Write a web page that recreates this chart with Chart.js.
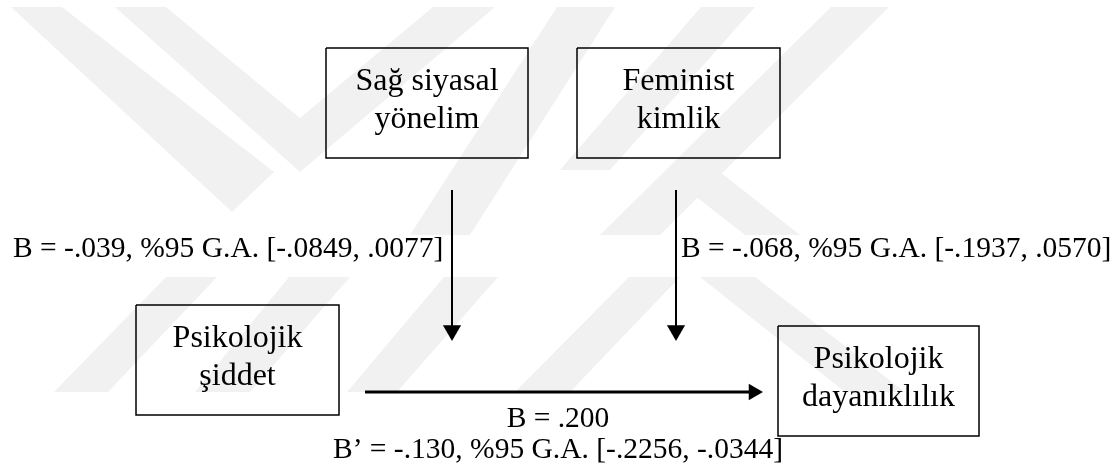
<!DOCTYPE html>
<html>
<head>
<meta charset="utf-8">
<script src="https://cdn.jsdelivr.net/npm/chart.js@4"></script>
<style>
  html, body { margin: 0; padding: 0; background: #fff; }
  #wrap { width: 1117px; height: 470px; }
</style>
</head>
<body>
<div id="wrap"><canvas id="pathChart"></canvas></div>
<script>
// variables of the moderation model
const nodeLines = [
  ["Sağ siyasal", "yönelim"],
  ["Feminist", "kimlik"],
  ["Psikolojik", "şiddet"],
  ["Psikolojik", "dayanıklılık"]
];
// path estimates written next to the arrows
const pathLabels = [
  "B = -.039, %95 G.A. [-.0849, .0077]",
  "B = -.068, %95 G.A. [-.1937, .0570]",
  "B = .200",
  "B’ = -.130, %95 G.A. [-.2256, -.0344]"
];

// layout, in picture units (x 0..1117, y 0..470 from the top)
const boxX = [326, 577, 136, 778];
const boxY = [48, 48, 305, 326];
const boxW = [202, 203, 203, 201];
const boxH = [110, 110, 110, 110];
const nodeTextY = [[90, 128], [90, 128], [347, 385], [368, 406]];
const arrowFrom = [[452, 190], [676, 190], [365, 392]];
const arrowTo = [[452, 341], [676, 341], [763, 392]];
const arrowWidth = [2, 2, 3];
const labelPos = [[13, 257, "left"], [681, 257, "left"], [558, 427, "center"], [558, 458, "center"]];

// faint watermark behind the diagram
const markBands = [
  { clip: [7, 235], poly: [[11,7],[62,7],[274,172],[232,212]] },
  { clip: [7, 235], poly: [[115,7],[166,7],[300,118],[433,7],[495,7],[300,172]] },
  { clip: [7, 235], poly: [[557,7],[615,7],[470,235],[410,235]] },
  { clip: [7, 235], poly: [[701,7],[755,7],[610,170],[560,170]] },
  { clip: [7, 235], poly: [[831,7],[889,7],[660,235],[600,235]] },
  { clip: [7, 235], poly: [[690,192],[715,168],[800,235],[745,235]] },
  { clip: [277, 392], poly: [[166,277],[217,277],[108,392],[54,392]] },
  { clip: [277, 392], poly: [[289,277],[350,277],[250,392],[195,392]] },
  { clip: [277, 392], poly: [[444,277],[498,277],[397,392],[347,392]] },
  { clip: [277, 392], poly: [[629,277],[680,277],[570,392],[515,392]] },
  { clip: [277, 392], poly: [[700,277],[755,277],[905,392],[845,392]] }
];

const serif = '"Liberation Serif", "Times New Roman", serif';

const datasets = [];
boxX.forEach((x, i) => {
  const y = boxY[i], w = boxW[i], h = boxH[i];
  datasets.push({
    data: [{x: x, y: y}, {x: x + w, y: y}, {x: x + w, y: y + h}, {x: x, y: y + h}, {x: x, y: y}],
    showLine: true,
    borderColor: "#000",
    borderWidth: 1.5,
    pointRadius: 0,
    fill: false
  });
});
arrowFrom.forEach((a, i) => {
  const b = arrowTo[i];
  const horiz = a[1] === b[1];
  const r = horiz ? 9.5 : 10.5;
  // the triangle is centred on the last point, so pull it back by r
  const end = horiz ? {x: b[0] - r, y: b[1]} : {x: b[0], y: b[1] - r};
  datasets.push({
    data: [{x: a[0], y: a[1]}, end],
    showLine: true,
    borderColor: "#000",
    borderWidth: arrowWidth[i],
    pointStyle: "triangle",
    pointRadius: [0, r],
    pointRotation: horiz ? 90 : 180,
    pointBackgroundColor: "#000",
    pointBorderWidth: 0,
    fill: false
  });
});

const watermark = {
  id: "watermark",
  beforeDatasetsDraw(chart) {
    const ctx = chart.ctx, xs = chart.scales.x, ys = chart.scales.y;
    ctx.save();
    ctx.fillStyle = "#f1f1f1";
    markBands.forEach((b) => {
      ctx.save();
      ctx.beginPath();
      ctx.rect(0, ys.getPixelForValue(b.clip[0]), chart.width, ys.getPixelForValue(b.clip[1]) - ys.getPixelForValue(b.clip[0]));
      ctx.clip();
      ctx.beginPath();
      b.poly.forEach((p, k) => {
        const px = xs.getPixelForValue(p[0]), py = ys.getPixelForValue(p[1]);
        if (k === 0) ctx.moveTo(px, py); else ctx.lineTo(px, py);
      });
      ctx.closePath();
      ctx.fill();
      ctx.restore();
    });
    ctx.restore();
  }
};

const texts = {
  id: "texts",
  afterDatasetsDraw(chart) {
    const ctx = chart.ctx, xs = chart.scales.x, ys = chart.scales.y;
    ctx.save();
    ctx.fillStyle = "#000";
    ctx.textBaseline = "alphabetic";
    ctx.textAlign = "center";
    ctx.font = "32px " + serif;
    nodeLines.forEach((lines, i) => {
      const cx = xs.getPixelForValue(boxX[i] + boxW[i] / 2);
      lines.forEach((t, k) => ctx.fillText(t, cx, ys.getPixelForValue(nodeTextY[i][k])));
    });
    ctx.font = "29.5px " + serif;
    pathLabels.forEach((t, i) => {
      ctx.textAlign = labelPos[i][2];
      ctx.fillText(t, xs.getPixelForValue(labelPos[i][0]), ys.getPixelForValue(labelPos[i][1]));
    });
    ctx.restore();
  }
};

new Chart(document.getElementById("pathChart"), {
  type: "scatter",
  data: { datasets: datasets },
  options: {
    responsive: true,
    maintainAspectRatio: false,
    animation: false,
    layout: { padding: 0, autoPadding: false },
    scales: {
      x: { type: "linear", min: 0, max: 1117, display: false },
      y: { type: "linear", min: 0, max: 470, reverse: true, display: false }
    },
    plugins: { legend: { display: false }, tooltip: { enabled: false } }
  },
  plugins: [watermark, texts]
});
</script>
</body>
</html>
